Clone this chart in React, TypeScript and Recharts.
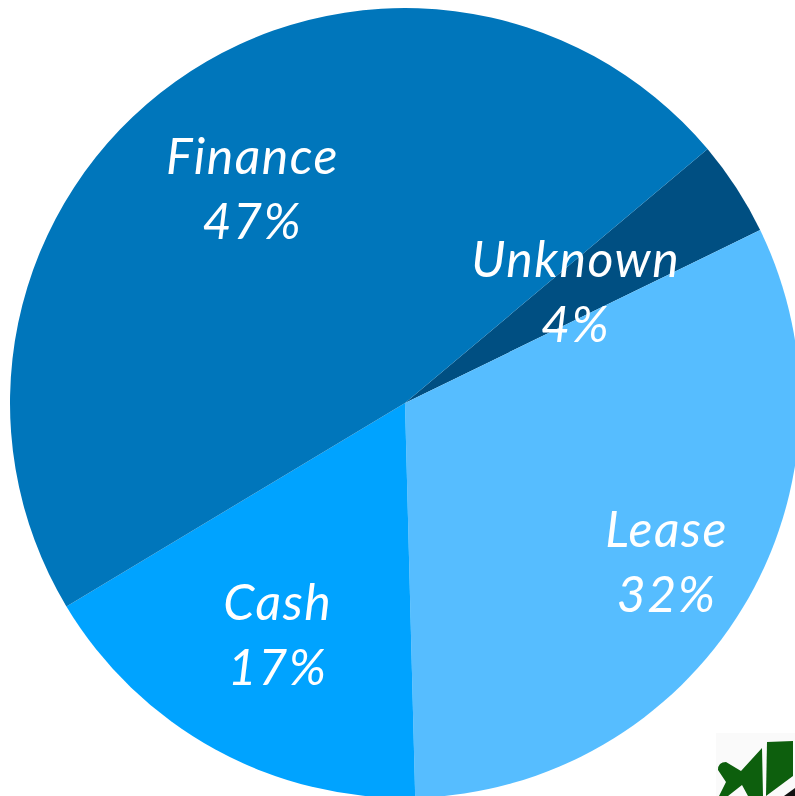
import { Cell, Pie, PieChart } from "recharts";

const CATEGORIES = ["Unknown", "Lease", "Cash", "Finance"];
const SHARES = [3.9, 31.8, 16.8, 47.5];
const SHOWN_PERCENT = ["4%", "32%", "17%", "47%"];
const SLICE_COLORS = ["#004f82", "#56bdff", "#00a3ff", "#0076bb"];
const LABEL_RADIUS = [0.515, 0.775, 0.67, 0.665];

const chartData = CATEGORIES.map((name, i) => ({ name, value: SHARES[i] }));

const FONT = '"Lato", "Noto Sans", sans-serif';

function SliceLabel({ cx, cy, midAngle, outerRadius, index }: any) {
  const r = outerRadius * LABEL_RADIUS[index];
  const rad = (midAngle * Math.PI) / 180;
  const x = cx + r * Math.cos(rad);
  const y = cy - r * Math.sin(rad);
  const textStyle = {
    fontFamily: FONT,
    fontSize: 50,
    fontStyle: "italic",
    fontWeight: 400,
    letterSpacing: 1.5,
  };
  return (
    <text x={x} y={y} fill="#ffffff" textAnchor="middle" style={textStyle}>
      <tspan x={x} dy={-15}>
        {CATEGORIES[index]}
      </tspan>
      <tspan x={x} dy={65}>
        {SHOWN_PERCENT[index]}
      </tspan>
    </text>
  );
}

// small watermark in the bottom right corner
function Watermark() {
  return (
    <svg
      width={79}
      height={63}
      viewBox="0 0 79 63"
      style={{ position: "absolute", left: 716, top: 733 }}
    >
      <rect width={79} height={63} fill="#fafafa" />
      <polygon points="51,9 77,8 77,43 50,63" fill="#0d5f0d" />
      <path
        d="M46,15 L47,63 L32,63 L26,52 L12,63 L3,63 L10,49 L2,37 Q2,29 10,29 L25,38 Z"
        fill="#0d5f0d"
      />
      <polygon points="68,63 79,55 79,63" fill="#111111" />
    </svg>
  );
}

export default function App() {
  return (
    <div
      style={{
        position: "absolute",
        left: 0,
        top: 0,
        width: 795,
        height: 796,
        overflow: "hidden",
        background: "#ffffff",
      }}
    >
      <PieChart width={810} height={806} margin={{ top: 0, right: 0, bottom: 0, left: 0 }}>
        <Pie
          data={chartData}
          dataKey="value"
          cx={405}
          cy={403}
          innerRadius={0}
          outerRadius={395}
          startAngle={40}
          endAngle={-320}
          stroke="none"
          labelLine={false}
          label={SliceLabel}
          isAnimationActive={false}
        >
          {chartData.map((_entry, idx) => (
            <Cell key={idx} fill={SLICE_COLORS[idx]} />
          ))}
        </Pie>
      </PieChart>
      <Watermark />
    </div>
  );
}
